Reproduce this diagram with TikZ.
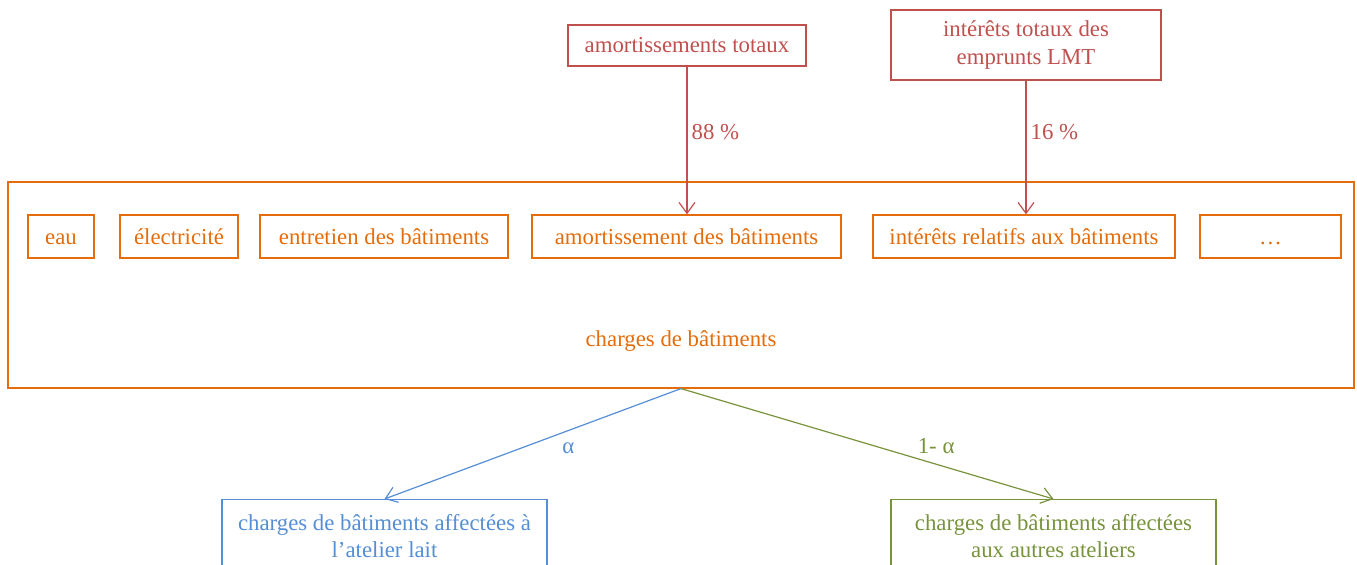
\documentclass[tikz,border=0pt]{standalone}
\usepackage{fontspec}
\setmainfont{Liberation Serif}
\usepackage{xcolor}
\usepackage{tikz}
\usetikzlibrary{arrows.meta,positioning}
\definecolor{rouge}{RGB}{192,80,77}
\definecolor{orangebat}{RGB}{228,108,10}
\definecolor{bleu}{RGB}{85,142,213}
\definecolor{vert}{RGB}{119,147,60}
\tikzset{
	basic/.style = {draw, rectangle, line width=0.6pt, align=center, inner sep=0pt,
		font=\fontsize{11.4}{13.6}\selectfont},
	source/.style = {basic, draw=rouge, text=rouge, minimum height=20.5pt},
	charge/.style = {basic, draw=orangebat, text=orangebat, minimum height=21.5pt,
		text height=9pt, text depth=0.5pt},
	cadre/.style = {basic, draw=orangebat, minimum width=673pt, minimum height=103pt},
	atelier/.style = {basic, anchor=north, minimum width=162.5pt, inner ysep=7.4pt},
	taux/.style = {font=\fontsize{11.4}{13.6}\selectfont, inner sep=2pt}
}

\begin{document}
\begin{tikzpicture}[x=0.5pt, y=-0.5pt,
			>={Straight Barb[length=5.5pt,width=8pt]}]
			
			\useasboundingbox (0,0) rectangle (1357,565);
			
			% the two sources, at the top
			\node[source, minimum width=119pt] (amtot) at (687,45.5) {amortissements totaux};
			\node[source, minimum width=135pt, minimum height=35pt] (inttot) at (1026,45) {intérêts totaux des\\emprunts LMT};
			
			% the frame of the building charges
			\node[cadre] (bat) at (681,285) {};
			\node[taux, text=orangebat] (battxt) at (681,341.5) {charges de bâtiments};
			
			% the charges, in one row inside the frame
			\begin{scope}[every node/.style={charge}]
				\node[minimum width=33pt] (c1) at (61,236.5) {eau};
				\node[minimum width=59pt] (c2) at (179,236.5) {électricité};
				\node[minimum width=124pt] (c3) at (384,236.5) {entretien des bâtiments};
				\node[minimum width=154.5pt] (c4) at (686.5,236.5) {amortissement des bâtiments};
				\node[minimum width=151pt] (c5) at (1024,236.5) {intérêts relatifs aux bâtiments};
				\node[minimum width=70.5pt] (c6) at (1270.5,236.5) {…};
			\end{scope}
			
			% the two workshops, at the bottom
			\node[atelier, draw=bleu, text=bleu] (lait) at (384.5,499) {charges de bâtiments affectées à\\l’atelier lait};
			\node[atelier, draw=vert, text=vert] (autres) at (1053.5,499) {charges de bâtiments affectées\\aux autres ateliers};
			
			% shares taken from the sources
			\draw[->, rouge, line width=0.6pt] (amtot.south) -- (amtot.south |- c4.north)
				node[taux, pos=0.44, right, text=rouge] (t88) {88 \%};
			\draw[->, rouge, line width=0.6pt] (inttot.south) -- (inttot.south |- c5.north)
				node[taux, pos=0.385, right, text=rouge] (t16) {16 \%};
			
			% shares given to the workshops
			\draw[->, bleu, line width=0.6pt] (bat.south) -- (lait.north)
				node[taux, pos=0.38, below, yshift=-4pt, text=bleu] (ta) {α};
			\draw[->, vert, line width=0.6pt] (bat.south) -- (autres.north)
				node[taux, pos=0.685, above, yshift=3pt, text=vert] (tb) {1- α};
		\end{tikzpicture}
\end{document}
